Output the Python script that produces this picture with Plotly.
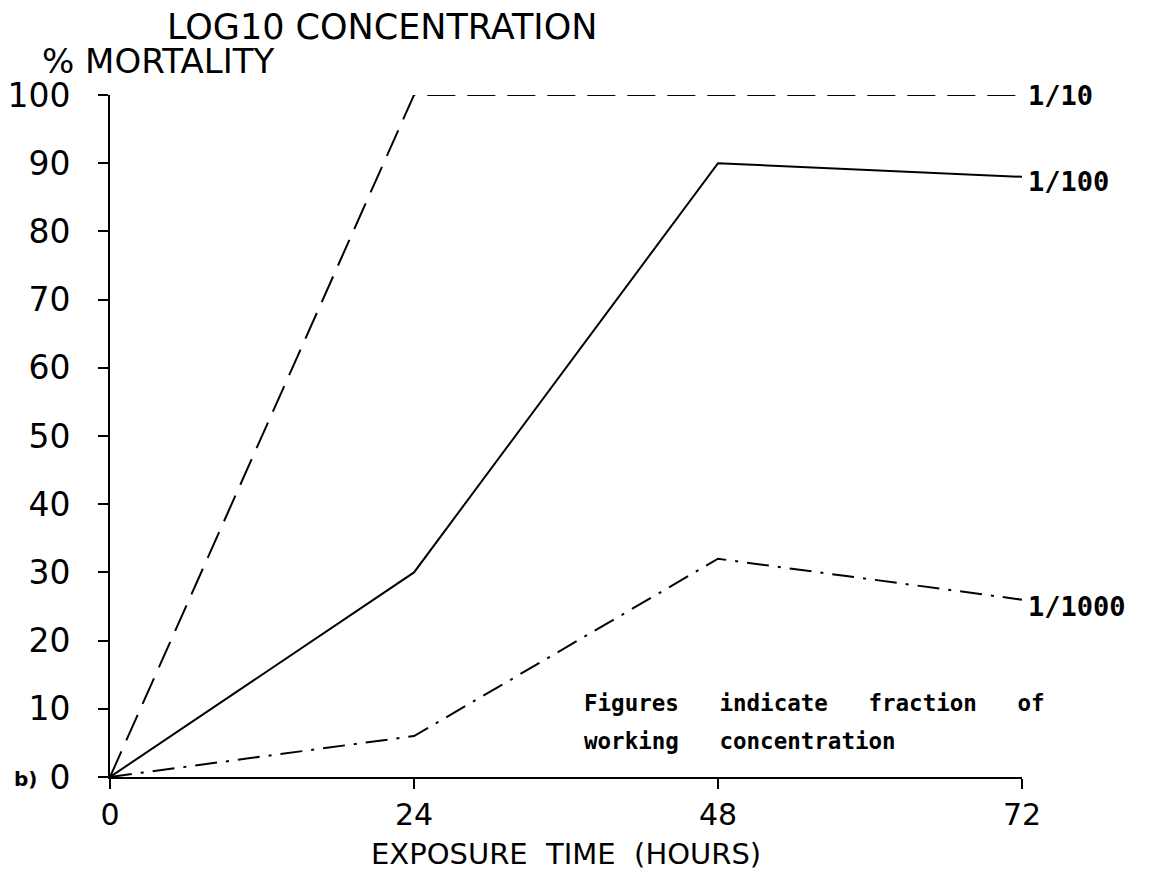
import plotly.graph_objects as go

hours = [0, 24, 48, 72]
mort_1_10 = [0, 100, 100, 100]
mort_1_100 = [0, 30, 90, 88]
mort_1_1000 = [0, 6, 32, 26]
series_labels = ["1/10", "1/100", "1/1000"]
x_ticks = [0, 24, 48, 72]
y_ticks = [0, 10, 20, 30, 40, 50, 60, 70, 80, 90, 100]

# screen-space plot box (page has an 8px body margin)
OFF = 8
SL, SR, ST, SB = 110, 1022, 95, 777
W, H = 1166 - 2 * OFF, 879 - 2 * OFF
L, R, T, B = SL - OFF, SR - OFF, ST - OFF, SB - OFF

def px(x):
    return (x - SL) / (SR - SL)

def py(y):
    return (SB - y) / (SB - ST)

fig = go.Figure()
styles = [
    (mort_1_10, "28px,12px"),
    (mort_1_100, "solid"),
    (mort_1_1000, "22px,9px,3px,9px"),
]
for vals, dash in styles:
    fig.add_trace(go.Scatter(x=hours, y=vals, mode="lines",
                             line=dict(color="black", width=2, dash=dash),
                             cliponaxis=False, showlegend=False, hoverinfo="skip"))

thin = dict(family="DejaVu Sans", size=34, color="black")
tickf = dict(family="DejaVu Sans", size=30, color="black")
bold_lab = dict(family="DejaVu Sans Mono", size=27, color="black", weight="bold")

for vals, lab, ys in zip([mort_1_10, mort_1_100, mort_1_1000], series_labels, [0, -5, -7]):
    fig.add_annotation(x=hours[-1], y=vals[-1], xref="x", yref="y", text=lab,
                       showarrow=False, xanchor="left", yanchor="middle",
                       xshift=4, yshift=ys, font=bold_lab)

fig.add_annotation(x=px(165), y=py(27), xref="paper", yref="paper",
                   text="LOG10 CONCENTRATION", showarrow=False,
                   xanchor="left", yanchor="middle",
                   font=dict(family="DejaVu Sans", size=35, color="black"))
fig.add_annotation(x=px(40), y=py(61), xref="paper", yref="paper",
                   text="% MORTALITY", showarrow=False,
                   xanchor="left", yanchor="middle", font=thin)
fig.add_annotation(x=px(566), y=py(854), xref="paper", yref="paper",
                   text="EXPOSURE  TIME  (HOURS)", showarrow=False,
                   xanchor="center", yanchor="middle",
                   font=dict(family="DejaVu Sans", size=29, color="black"))
fig.add_annotation(x=px(12), y=py(779), xref="paper", yref="paper",
                   text="b)", showarrow=False,
                   xanchor="left", yanchor="middle",
                   font=dict(family="DejaVu Sans", size=20, color="black", weight="bold"))

note_font = dict(family="DejaVu Sans Mono", size=22.5, color="black", weight="bold")
fig.add_annotation(x=px(582), y=py(703), xref="paper", yref="paper",
                   text="Figures   indicate   fraction   of", showarrow=False,
                   xanchor="left", yanchor="middle", font=note_font)
fig.add_annotation(x=px(582), y=py(741), xref="paper", yref="paper",
                   text="working   concentration", showarrow=False,
                   xanchor="left", yanchor="middle", font=note_font)

fig.update_xaxes(range=[0, 72], tickvals=x_ticks, ticktext=[str(v) for v in x_ticks],
                 showgrid=False, zeroline=False, showline=True, linecolor="black",
                 linewidth=2, ticks="outside", ticklen=10, tickwidth=2, tickcolor="black",
                 tickfont=tickf, ticklabelstandoff=0)
fig.update_yaxes(range=[0, 100], tickvals=y_ticks, ticktext=[str(v) for v in y_ticks],
                 showgrid=False, zeroline=False, showline=True, linecolor="black",
                 linewidth=2, ticks="outside", ticklen=10, tickwidth=2, tickcolor="black",
                 tickfont=dict(family="DejaVu Sans", size=33, color="black"),
                 ticklabelstandoff=21)

fig.update_layout(width=W, height=H, plot_bgcolor="white", paper_bgcolor="white",
                  margin=dict(l=L, r=W - R, t=T, b=H - B, autoexpand=False))

fig.write_html("out.html")
